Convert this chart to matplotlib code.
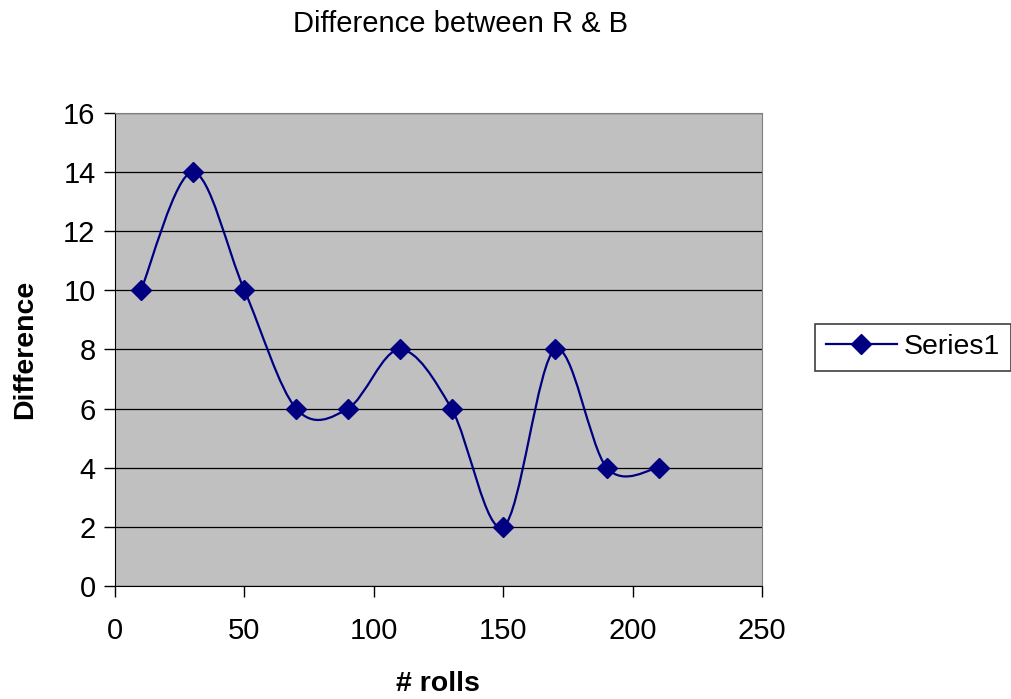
import numpy as np
import matplotlib.pyplot as plt
from matplotlib.path import Path
from matplotlib.patches import PathPatch
from matplotlib.lines import Line2D

plt.rcParams['font.family'] = ['Liberation Sans', 'DejaVu Sans']

rolls = [10, 30, 50, 70, 90, 110, 130, 150, 170, 190, 210]
difference = [10, 14, 10, 6, 6, 8, 6, 2, 8, 4, 4]

navy = '#000080'


def smooth_path(x, y, t=1 / 6):
    # Excel-style smoothed line: cubic bezier with Catmull-Rom tangents
    pts = np.column_stack([x, y]).astype(float)
    n = len(pts)
    verts = [pts[0]]
    codes = [Path.MOVETO]
    for i in range(n - 1):
        p0 = pts[i - 1] if i > 0 else pts[i]
        p1 = pts[i]
        p2 = pts[i + 1]
        p3 = pts[i + 2] if i + 2 < n else pts[i + 1]
        c1 = p1 + (p2 - p0) * t
        c2 = p2 - (p3 - p1) * t
        verts += [c1, c2, p2]
        codes += [Path.CURVE4] * 3
    return Path(verts, codes)


fig = plt.figure(figsize=(10.11, 6.99), dpi=100)
ax = fig.add_axes([0.1138, 0.1617, 0.640, 0.6767])
ax.set_facecolor('#c0c0c0')

ax.add_patch(PathPatch(smooth_path(rolls, difference), facecolor='none',
                       edgecolor=navy, lw=1.6, zorder=3))
ax.plot(rolls, difference, linestyle='none', marker='D', markersize=10.5,
        color=navy, zorder=4)

ax.set_xlim(0, 250)
ax.set_ylim(0, 16)
ax.set_xticks(range(0, 251, 50))
ax.set_yticks(range(0, 17, 2))
ax.yaxis.grid(True, color='black', lw=0.9)
ax.set_axisbelow(True)
ax.tick_params(direction='out', length=8, width=1, labelsize=21, pad=6)
ax.tick_params(axis='x', pad=14)
for s in ['top', 'right']:
    ax.spines[s].set_color('#808080')
for s in ['left', 'bottom']:
    ax.spines[s].set_color('black')

fig.text(0.455, 0.966, 'Difference between R & B', ha='center', va='center',
         fontsize=21)
fig.text(0.433, 0.022, '# rolls', ha='center', va='center', fontsize=20.5,
         fontweight='bold')
fig.text(0.025, 0.5, 'Difference', ha='center', va='center', fontsize=20.5,
         fontweight='bold', rotation=90)

handle = Line2D([], [], color=navy, lw=1.6, marker='D', markersize=10.5)
leg = fig.legend([handle], ['Series1'], loc='center left',
                 bbox_to_anchor=(0.806, 0.503), fontsize=20.5, fancybox=False,
                 framealpha=1, edgecolor='#404040', handlelength=2.5,
                 handletextpad=0.25, borderpad=0.38, borderaxespad=0)
leg.get_frame().set_linewidth(1.2)

fig.savefig('out.png', dpi=100)
